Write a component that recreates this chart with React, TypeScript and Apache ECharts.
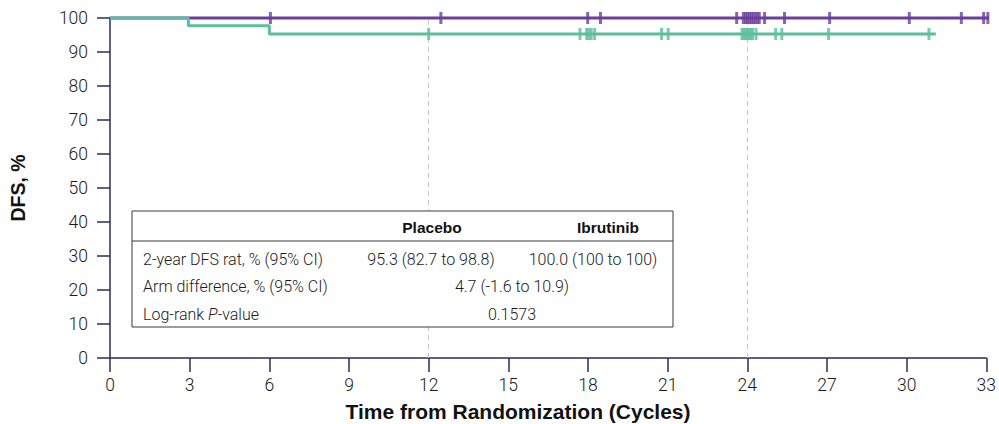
import React, { useEffect, useRef } from "react";
import * as echarts from "echarts";

// Kaplan-Meier step points (cycles, DFS %)
const placeboCurve: [number, number][] = [
  [0, 100],
  [2.95, 97.7],
  [6.0, 95.3],
  [31.1, 95.3],
];
const ibrutinibCurve: [number, number][] = [
  [0, 100],
  [33.35, 100],
];
// censor marks (cycles)
const placeboCensors = [12.0, 17.7, 17.95, 18.03, 18.12, 18.25, 20.77, 21.02, 23.8, 23.87, 23.94, 24.0, 24.07, 24.14, 24.2, 24.33, 25.07, 25.3, 27.06, 30.84];
const placeboCensorLevel = 95.3;
const ibrutinibCensors = [6.04, 12.46, 17.99, 18.47, 23.6, 23.85, 23.93, 24.0, 24.08, 24.15, 24.23, 24.3, 24.38, 24.45, 24.65, 25.4, 27.1, 30.1, 32.06, 32.9, 33.06];
const ibrutinibCensorLevel = 100;

const xTicks = [0, 3, 6, 9, 12, 15, 18, 21, 24, 27, 30, 33];
const refLines = [12, 24];
const xTitle = "Time from Randomization (Cycles)";
const yTitle = "DFS, %";

const tableHeader = ["", "Placebo", "Ibrutinib"];
const tableRows = [
  ["2-year DFS rat, % (95% CI)", "95.3 (82.7 to 98.8)", "100.0 (100 to 100)"],
  ["Arm difference, % (95% CI)", "4.7 (-1.6 to 10.9)"],
  ["Log-rank P-value", "0.1573"],
];

const PURPLE = "#6B3E9E";
const GREEN = "#5BBE9E";
const AXIS = "#2E2B58";
const BOLD = "'Liberation Sans', Arial, sans-serif";
const LIGHT = "Roboto, 'Liberation Sans', sans-serif";

export default function App() {
  const ref = useRef<HTMLDivElement>(null);
  useEffect(() => {
    if (!ref.current) return;
    const chart = echarts.init(ref.current, undefined, { renderer: "svg" });

    const tx = 132, ty = 211, tw = 541, th = 116;
    const rowY = [227, 259, 286, 314];
    const body = `300 16px ${LIGHT}`;
    const head = `bold 15.5px ${BOLD}`;
    const graphics: any[] = [
      { type: "rect", shape: { x: tx, y: ty, width: tw, height: th }, style: { fill: "#fff", stroke: "#3a3a3a", lineWidth: 1 }, z: 50 },
      { type: "line", shape: { x1: tx, y1: 241, x2: tx + tw, y2: 241 }, style: { stroke: "#3a3a3a", lineWidth: 1 }, z: 51 },
      { type: "text", x: 432, y: rowY[0], style: { text: tableHeader[1], font: head, fill: "#111", align: "center", verticalAlign: "middle" }, z: 52 },
      { type: "text", x: 608, y: rowY[0], style: { text: tableHeader[2], font: head, fill: "#111", align: "center", verticalAlign: "middle" }, z: 52 },
      { type: "text", x: 143, y: rowY[1], style: { text: tableRows[0][0], font: body, fill: "#1a1a1a", verticalAlign: "middle" }, z: 52 },
      { type: "text", x: 431, y: rowY[1], style: { text: tableRows[0][1], font: body, fill: "#1a1a1a", align: "center", verticalAlign: "middle" }, z: 52 },
      { type: "text", x: 593, y: rowY[1], style: { text: tableRows[0][2], font: body, fill: "#1a1a1a", align: "center", verticalAlign: "middle" }, z: 52 },
      { type: "text", x: 143, y: rowY[2], style: { text: tableRows[1][0], font: body, fill: "#1a1a1a", verticalAlign: "middle" }, z: 52 },
      { type: "text", x: 512, y: rowY[2], style: { text: tableRows[1][1], font: body, fill: "#1a1a1a", align: "center", verticalAlign: "middle" }, z: 52 },
      {
        type: "text", x: 143, y: rowY[3],
        style: {
          text: "Log-rank {i|P}-value",
          font: body, fill: "#1a1a1a", verticalAlign: "middle",
          rich: { i: { fontStyle: "italic", fontWeight: 300, fontSize: 16, fontFamily: LIGHT, fill: "#1a1a1a" } },
        }, z: 52,
      },
      { type: "text", x: 512, y: rowY[3], style: { text: tableRows[2][1], font: body, fill: "#1a1a1a", align: "center", verticalAlign: "middle" }, z: 52 },
      { type: "text", x: 518, y: 411, style: { text: xTitle, font: `bold 21px ${BOLD}`, fill: "#111", align: "center", verticalAlign: "middle" }, z: 52 },
    ];

    chart.setOption({
      animation: false,
      grid: { left: 108, top: 18, right: 9, bottom: 66, containLabel: false },
      xAxis: {
        type: "value",
        min: 0,
        max: 33,
        interval: 3,
        axisLine: { show: true, lineStyle: { color: AXIS, width: 1.5 } },
        axisTick: { show: true, inside: false, length: 14, lineStyle: { color: AXIS, width: 1.5 } },
        axisLabel: { fontFamily: LIGHT, fontWeight: 300, fontSize: 17.5, color: "#1a1a1a", margin: 18, showMaxLabel: true, formatter: (v: number) => (xTicks.includes(v) ? String(v) : "") },
        splitLine: { show: false },
      },
      yAxis: {
        type: "value",
        min: 0,
        max: 100,
        interval: 10,
        name: yTitle,
        nameLocation: "middle",
        nameGap: 82,
        nameRotate: 90,
        nameTextStyle: { fontFamily: BOLD, fontWeight: "bold", fontSize: 19.5, color: "#111" },
        axisLine: { show: true, onZero: false, lineStyle: { color: AXIS, width: 1.5 } },
        axisTick: { show: true, inside: false, length: 13, lineStyle: { color: AXIS, width: 1.5 } },
        axisLabel: { fontFamily: LIGHT, fontWeight: 300, fontSize: 17.5, color: "#1a1a1a", margin: 22 },
        splitLine: { show: false },
      },
      series: [
        {
          type: "line",
          data: ibrutinibCurve,
          step: "end",
          showSymbol: false,
          clip: false,
          lineStyle: { color: PURPLE, width: 3 },
          z: 3,
          markLine: {
            silent: true,
            symbol: "none",
            label: { show: false },
            lineStyle: { color: "#c4c4cc", type: [5, 4], width: 1 },
            data: refLines.map((v) => ({ xAxis: v })),
            z: 1,
          },
        },
        {
          type: "scatter",
          data: ibrutinibCensors.map((v) => [v, ibrutinibCensorLevel]),
          symbol: "rect",
          symbolSize: [3, 12],
          clip: false,
          itemStyle: { color: PURPLE },
          z: 4,
        },
        {
          type: "line",
          data: placeboCurve,
          step: "end",
          showSymbol: false,
          clip: false,
          lineStyle: { color: GREEN, width: 3 },
          z: 5,
        },
        {
          type: "scatter",
          data: placeboCensors.map((v) => [v, placeboCensorLevel]),
          symbol: "rect",
          symbolSize: [3, 12],
          itemStyle: { color: GREEN },
          z: 6,
        },
      ],
      graphic: graphics,
    });
    return () => chart.dispose();
  }, []);
  return <div ref={ref} style={{ width: 999, height: 424, position: "absolute", left: 0, top: 0 }} />;
}
